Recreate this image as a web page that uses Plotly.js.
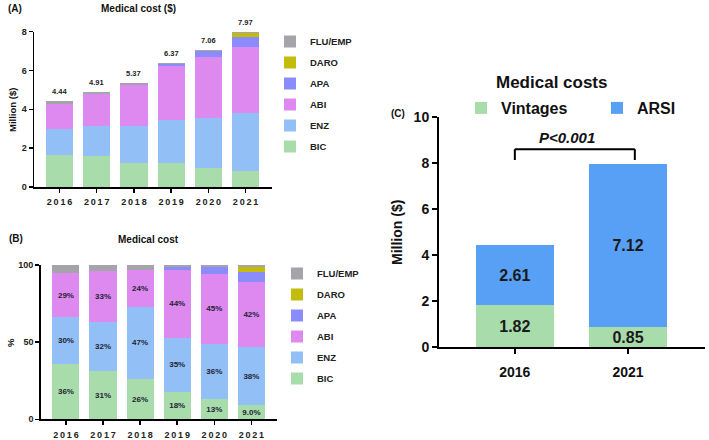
<!DOCTYPE html>
<html>
<head>
<meta charset="utf-8">
<script src="https://cdn.plot.ly/plotly-3.0.1.min.js"></script>
<style>html,body{margin:0;padding:0;background:#fff;}#chart{width:709px;height:440px;}</style>
</head>
<body>
<div id="chart"></div>
<script>
// ---------- DATA ----------
const years = ['2016', '2017', '2018', '2019', '2020', '2021'];
const drugNames = ['BIC', 'ENZ', 'ABI', 'APA', 'DARO', 'FLU/EMP'];

// Panel A: medical cost, million $
const costBIC  = [1.67, 1.60, 1.25, 1.22, 0.98, 0.80];
const costENZ  = [1.33, 1.55, 1.88, 2.21, 2.56, 3.00];
const costABI  = [1.27, 1.61, 2.10, 2.77, 3.17, 3.40];
const costAPA  = [0, 0, 0, 0.12, 0.30, 0.50];
const costDARO = [0, 0, 0, 0, 0, 0.24];
const costFLU  = [0.17, 0.15, 0.14, 0.05, 0.05, 0.03];
const costTotals = [4.44, 4.91, 5.37, 6.37, 7.06, 7.97];

// Panel B: share of medical cost, %
const shareBIC  = [36, 31, 26, 18, 13, 9];
const shareENZ  = [30, 32, 47, 35, 36, 38];
const shareABI  = [29, 33, 24, 44, 45, 42];
const shareAPA  = [0, 0, 0, 1.8, 5, 6.5];
const shareDARO = [0, 0, 0, 0, 0, 3.5];
const shareFLU  = [5, 4, 3, 1.2, 1, 1];
const shareBICLabels = ['36%', '31%', '26%', '18%', '13%', '9.0%'];
const shareENZLabels = ['30%', '32%', '47%', '35%', '36%', '38%'];
const shareABILabels = ['29%', '33%', '24%', '44%', '45%', '42%'];

// Panel C: Vintages vs ARSI, million $
const cYears = ['2016', '2021'];
const cGroups = ['Vintages', 'ARSI'];
const vintages = [1.82, 0.85];
const arsi = [2.61, 7.12];
const pText = 'P<0.001';

// ---------- STYLE ----------
const colors = {
  'BIC': '#a9dcab', 'ENZ': '#92c0f6', 'ABI': '#de89f0',
  'APA': '#8b8cfb', 'DARO': '#c4bc0c', 'FLU/EMP': '#a4a4aa'
};
const cColors = {'Vintages': '#a9dcab', 'ARSI': '#58a0f6'};
const FONT = 'Liberation Sans, Arial, sans-serif';
const W = 709, H = 440;
const px = v => v / W;
const py = v => 1 - v / H;

const costData = [costBIC, costENZ, costABI, costAPA, costDARO, costFLU];
const shareData = [shareBIC, shareENZ, shareABI, shareAPA, shareDARO, shareFLU];
const shareLabels = [shareBICLabels, shareENZLabels, shareABILabels, null, null, null];

const spaced = s => s.split('').join('\u2009');

const traces = [];
drugNames.forEach((name, i) => {
  traces.push({
    type: 'bar', x: years, y: costData[i], name: name,
    xaxis: 'x', yaxis: 'y', legend: 'legend', legendgroup: 'a' + i,
    legendrank: 100 - i,
    marker: {color: colors[name], line: {width: 0}},
    width: 0.73, hoverinfo: 'skip', textposition: 'none'
  });
});
drugNames.forEach((name, i) => {
  const t = {
    type: 'bar', x: years, y: shareData[i], name: name,
    xaxis: 'x2', yaxis: 'y2', legend: 'legend2', legendgroup: 'b' + i,
    legendrank: 100 - i,
    marker: {color: colors[name], line: {width: 0}},
    width: 0.73, hoverinfo: 'skip'
  };
  if (shareLabels[i]) {
    t.text = shareLabels[i];
    t.textposition = 'inside';
    t.insidetextanchor = 'middle';
    t.constraintext = 'none';
    t.textangle = 0;
    t.textfont = {family: FONT, size: 8, weight: 'bold', color: '#222233'};
  } else {
    t.textposition = 'none';
  }
  traces.push(t);
});
const cVals = [vintages, arsi];
const cLegendWidths = [91, 45];
cGroups.forEach((g, i) => {
  traces.push({
    type: 'bar', x: cYears, y: cVals[i], name: g,
    xaxis: 'x3', yaxis: 'y3', legend: 'legend3', legendwidth: cLegendWidths[i],
    marker: {color: cColors[g], line: {width: 0}},
    width: 0.69, hoverinfo: 'skip',
    text: cVals[i].map(v => v.toFixed(2)),
    textposition: 'inside', insidetextanchor: 'middle', constraintext: 'none', textangle: 0,
    textfont: {family: FONT, size: 16, weight: 'bold', color: '#1a1a1a'}
  });
});

const axBase = {
  showline: true, linecolor: '#000', showgrid: false, zeroline: false,
  ticks: 'outside', tickcolor: '#000', fixedrange: true
};
const smallTick = {family: FONT, size: 9, weight: 'bold', color: '#222'};

const annotations = [];
years.forEach((yr, i) => {
  annotations.push({
    xref: 'x', yref: 'y', x: i, y: costTotals[i], text: costTotals[i].toFixed(2),
    showarrow: false, yanchor: 'bottom', yshift: 3,
    font: {family: FONT, size: 7.5, weight: 'bold', color: '#222'}
  });
});
const addText = (text, x, y, size, extra) => annotations.push(Object.assign({
  xref: 'paper', yref: 'paper', x: px(x), y: py(y), text: text, showarrow: false,
  xanchor: 'center', yanchor: 'middle',
  font: {family: FONT, size: size, weight: 'bold', color: '#111'}
}, extra || {}));
addText('(A)', 6, 8, 10, {xanchor: 'left'});
addText('Medical cost ($)', 138, 8, 10);
addText('Million ($)', 12, 110, 9.5, {textangle: -90});
addText('(B)', 7, 238, 10, {xanchor: 'left'});
addText('Medical cost', 148, 239, 10);
addText('%', 10, 343, 9.5, {textangle: -90});
addText('(C)', 389, 113, 10, {xanchor: 'left'});
addText('Medical costs', 552, 82, 17);
addText('Million ($)', 397, 233, 14, {textangle: -90});
annotations.push({
  xref: 'x3', yref: 'y3', x: 0.46, y: 9.13, text: pText, showarrow: false,
  font: {family: FONT, size: 15, weight: 'bold', style: 'italic', color: '#111'}
});

const bracket = {type: 'line', xref: 'x3', yref: 'y3', line: {color: '#000', width: 2}};
const shapes = [
  Object.assign({x0: 0, x1: 0, y0: 8.13, y1: 8.6}, bracket),
  Object.assign({x0: 0, x1: 1.06, y0: 8.6, y1: 8.6}, bracket),
  Object.assign({x0: 1.06, x1: 1.06, y0: 8.6, y1: 8.13}, bracket)
];

const layout = {
  width: W, height: H, margin: {l: 0, r: 0, t: 0, b: 0},
  paper_bgcolor: '#fff', plot_bgcolor: 'rgba(0,0,0,0)',
  barmode: 'stack', showlegend: true,
  font: {family: FONT, color: '#222'},
  xaxis: Object.assign({}, axBase, {
    domain: [px(34), px(272)], anchor: 'y', type: 'category',
    range: [-0.685, 5.71], linewidth: 1.5, tickwidth: 1.5, ticklen: 4,
    tickvals: years, ticktext: years.map(spaced), tickfont: smallTick, ticklabelstandoff: 2
  }),
  yaxis: Object.assign({}, axBase, {
    domain: [py(187), py(31.5)], anchor: 'x', range: [0, 8],
    tickvals: [0, 2, 4, 6, 8], linewidth: 1.5, tickwidth: 1.5, ticklen: 4, tickfont: smallTick
  }),
  xaxis2: Object.assign({}, axBase, {
    domain: [px(40.7), px(277)], anchor: 'y2', type: 'category',
    range: [-0.68, 5.69], linewidth: 1.5, tickwidth: 1.5, ticklen: 4,
    tickvals: years, ticktext: years.map(spaced), tickfont: smallTick, ticklabelstandoff: 2
  }),
  yaxis2: Object.assign({}, axBase, {
    domain: [py(419.3), py(265)], anchor: 'x2', range: [0, 100],
    tickvals: [0, 50, 100], linewidth: 1.5, tickwidth: 1.5, ticklen: 4, tickfont: smallTick
  }),
  xaxis3: Object.assign({}, axBase, {
    domain: [px(439), px(705)], anchor: 'y3', type: 'category',
    range: [-0.67, 1.68], linewidth: 2, tickwidth: 2, ticklen: 5,
    tickfont: {family: FONT, size: 14, weight: 'bold', color: '#111'}, ticklabelstandoff: 6
  }),
  yaxis3: Object.assign({}, axBase, {
    domain: [py(347), py(117)], anchor: 'x3', range: [0, 10],
    tickvals: [0, 2, 4, 6, 8, 10], linewidth: 2, tickwidth: 2, ticklen: 5,
    tickfont: {family: FONT, size: 14, weight: 'bold', color: '#111'}
  }),
  legend: {
    x: px(270), y: py(27), xanchor: 'left', yanchor: 'top',
    traceorder: 'grouped', tracegroupgap: 2, bgcolor: 'rgba(0,0,0,0)',
    font: {family: FONT, size: 9.5, weight: 'bold', color: '#222'}
  },
  legend2: {
    x: px(277), y: py(259), xanchor: 'left', yanchor: 'top',
    traceorder: 'grouped', tracegroupgap: 2, bgcolor: 'rgba(0,0,0,0)',
    font: {family: FONT, size: 9.5, weight: 'bold', color: '#222'}
  },
  legend3: {
    x: px(461), y: py(108), xanchor: 'left', yanchor: 'middle', orientation: 'h',
    traceorder: 'normal', bgcolor: 'rgba(0,0,0,0)',
    font: {family: FONT, size: 16, weight: 'bold', color: '#111'}
  },
  annotations: annotations,
  shapes: shapes
};

Plotly.newPlot('chart', traces, layout, {staticPlot: true, displayModeBar: false});
</script>
</body>
</html>
